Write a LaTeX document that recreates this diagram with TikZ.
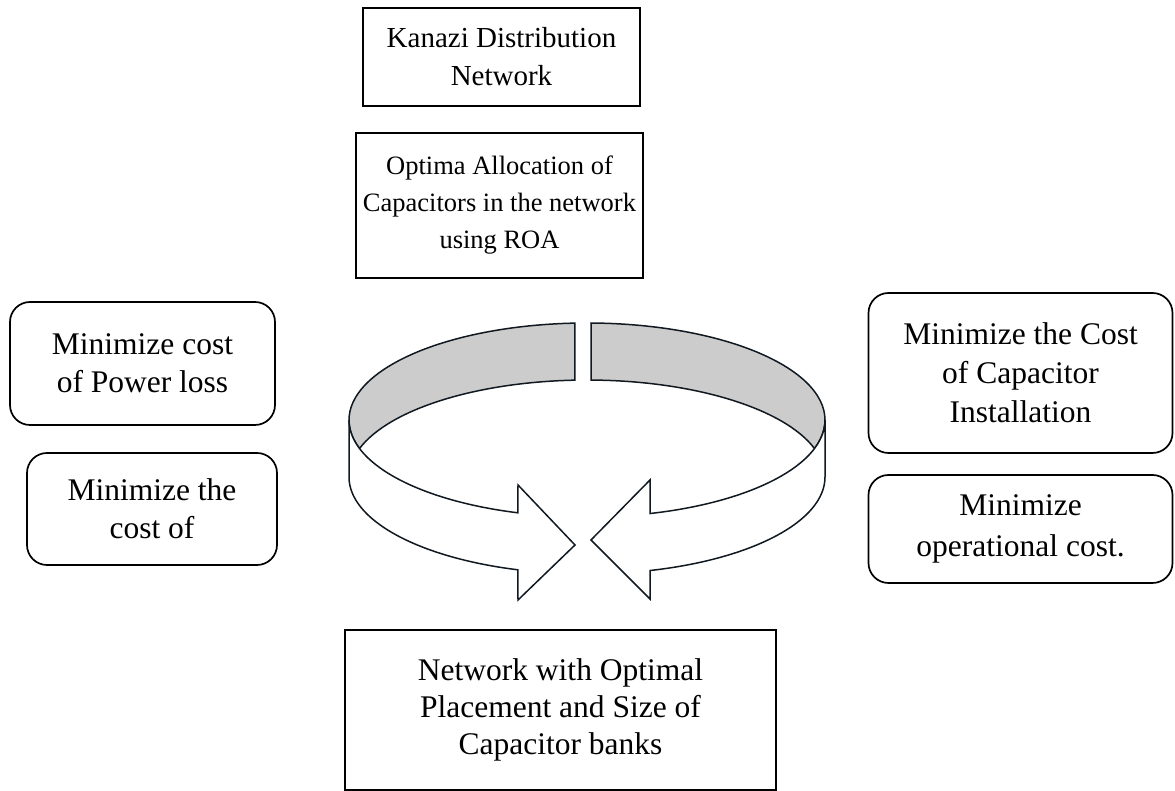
\documentclass[tikz,border=0pt]{standalone}
\usepackage{fontspec}
\setmainfont{Liberation Serif}
\definecolor{ribgray}{HTML}{CCCCCC}
\definecolor{ribline}{HTML}{101820}
\begin{document}
\begin{tikzpicture}[x=1pt,y=1pt,
  box/.style={draw=black, line width=1.7pt, align=center, inner sep=0pt,
    font=\fontsize{31.5}{38}\selectfont},
  rbox/.style={box, rounded corners=20pt},
  rib/.style={draw=ribline, line width=1.5pt, line join=miter}]
\useasboundingbox (0,0) rectangle (1175,791);

% boxes
\node[box, minimum width=277, minimum height=98, font=\fontsize{29}{38}\selectfont] (kanazi) at (501.5,734) {Kanazi Distribution\\Network};
\node[box, minimum width=287, minimum height=145, font=\fontsize{26.5}{37}\selectfont] (optima) at (499.5,585.5) {Optima Allocation of\\Capacitors in the network\\using ROA};
\node[rbox, minimum width=265, minimum height=123] (lt) at (142.5,427.5) {Minimize cost\\of Power loss};
\node[rbox, minimum width=250, minimum height=112] (lb) at (152,282) {Minimize the\\cost of};
\node[rbox, minimum width=304, minimum height=160, font=\fontsize{31.5}{39}\selectfont] (rt) at (1020.5,418) {Minimize the Cost\\of Capacitor\\Installation};
\node[rbox, minimum width=304, minimum height=108, font=\fontsize{31.5}{41}\selectfont] (rb) at (1020.5,262) {Minimize\\operational cost.};
\node[box, minimum width=431, minimum height=160, font=\fontsize{31.5}{37}\selectfont] (result) at (560.5,81) {Network with Optimal\\Placement and Size of\\Capacitor banks};

% ribbon: back (inside) parts
\draw[rib, fill=ribgray] ({587+238*cos(92.9)},{371+97*sin(92.9)})
  arc[start angle=92.9, end angle=197.1, x radius=238, y radius=97]
  arc[start angle=162.9, end angle=92.9, x radius=238, y radius=97] -- cycle;
\draw[rib, fill=ribgray] ({587+238*cos(89)},{371+97*sin(89)})
  arc[start angle=89, end angle=-17.1, x radius=238, y radius=97]
  arc[start angle=17.1, end angle=89, x radius=238, y radius=97] -- cycle;

% ribbon: front arrows
\draw[rib, fill=white] (349,371) -- (349,314)
  arc[start angle=180, end angle=253.1, x radius=238, y radius=97]
  -- (518,191) -- (575,246) -- (518,306)
  -- ({587+238*cos(253.1)},{371+97*sin(253.1)})
  arc[start angle=253.1, end angle=180, x radius=238, y radius=97] -- cycle;
\draw[rib, fill=white] (825,371) -- (825,314)
  arc[start angle=360, end angle=285.35, x radius=238, y radius=97]
  -- (650,192) -- (591,251) -- (650,311)
  -- ({587+238*cos(285.35)},{371+97*sin(285.35)})
  arc[start angle=285.35, end angle=360, x radius=238, y radius=97] -- cycle;
\end{tikzpicture}
\end{document}
